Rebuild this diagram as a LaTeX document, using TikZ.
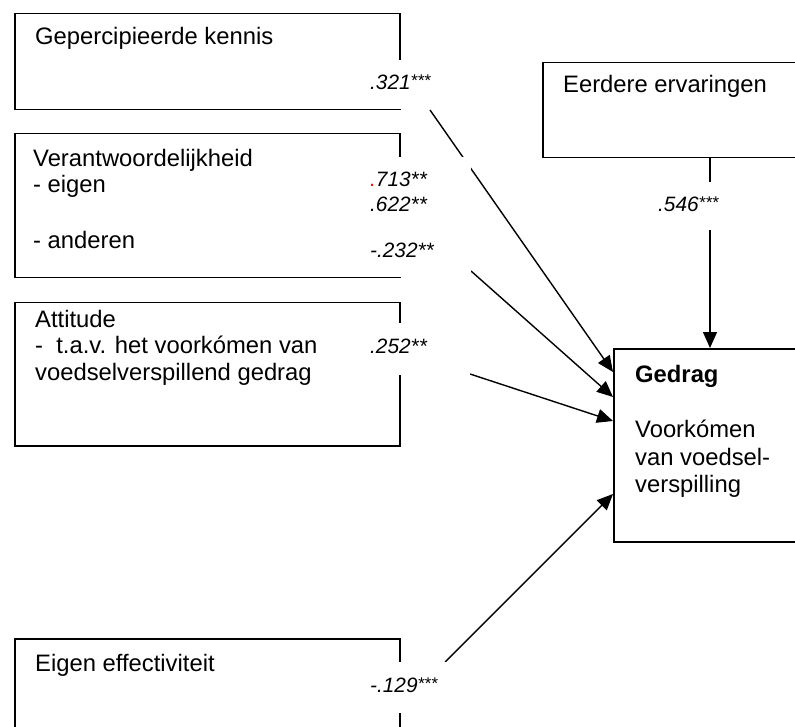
\documentclass[tikz,border=0pt]{standalone}
\usepackage{fontspec}
\setmainfont{Liberation Sans}
\usetikzlibrary{arrows.meta}

\tikzset{
  factorbox/.style={draw=black, line width=1.5pt, rectangle, anchor=north west, inner sep=0pt},
  txt/.style={anchor=base west, inner sep=0pt, font=\fontsize{23.8}{27}\selectfont},
  coef/.style={anchor=base west, inner sep=0pt, font=\fontsize{20.8}{24}\selectfont\itshape},
  linkarrow/.style={draw=black, line width=1.4pt, -{Triangle[length=16pt,width=14pt]}},
  gapmask/.style={fill=white, draw=none},
}
\newcommand{\sigstars}[1]{\raisebox{3pt}{\fontsize{17}{17}\selectfont #1}}

\begin{document}
\begin{tikzpicture}[x=1pt,y=-1pt]
\clip (0,0) rectangle (795,727);
\fill[white] (0,0) rectangle (795,727);

% factor boxes
\node[factorbox, minimum width=385pt, minimum height=96pt]  (kennis) at (14,13)  {};
\node[factorbox, minimum width=385pt, minimum height=144pt] (verant) at (14,133) {};
\node[factorbox, minimum width=385pt, minimum height=143pt] (attit)  at (14,302) {};
\node[factorbox, minimum width=385pt, minimum height=150pt] (effect) at (14,638) {};
\node[factorbox, minimum width=300pt, minimum height=95pt]  (eerder) at (542,62) {};
\node[factorbox, minimum width=250pt, minimum height=193pt] (gedrag) at (613,348) {};

% box texts
\node[txt] (tk)  at (35,45)  {Gepercipieerde kennis};
\node[txt] (tv1) at (33,167) {Verantwoordelijkheid};
\node[txt] (tv2) at (33,193) {- eigen};
\node[txt] (tv3) at (33,249) {- anderen};
\node[txt] (ta1) at (35,327) {Attitude};
\node[txt] (ta2) at (35,353) {-\ \ t.a.v. het voorkómen van};
\node[txt] (ta3) at (35,380) {voedselverspillend gedrag};
\node[txt] (te)  at (35,671) {Eigen effectiviteit};
\node[txt] (tr)  at (563,93) {Eerdere ervaringen};
\node[txt, font=\fontsize{23.8}{27}\selectfont\bfseries] (tg1) at (635,382) {Gedrag};
\node[txt] (tg2) at (635,437) {Voorkómen};
\node[txt] (tg3) at (635,465) {van voedsel-};
\node[txt] (tg4) at (635,492) {verspilling};

% connector ends
\coordinate (s1) at (430,110);
\coordinate (s2) at (471,271);
\coordinate (s3) at (470,374);
\coordinate (s4) at (445,662);
\coordinate (t0) at (710,348);
\coordinate (t1) at (613,372);
\coordinate (t2) at (613,397);
\coordinate (t3) at (613,421);
\coordinate (t4) at (613,494);

% paths to behaviour
\draw[linkarrow] (eerder.south -| t0) -- (t0);
\draw[linkarrow] (s1) -- (t1);
\draw[linkarrow] (s2) -- (t2);
\draw[linkarrow] (s3) -- (t3);
\draw[linkarrow] (s4) -- (t4);

% white grounds behind the coefficients
\fill[gapmask] (325,60)  rectangle (472,109);
\fill[gapmask] (350,157) rectangle (471,277);
\fill[gapmask] (360,323) rectangle (470,375);
\fill[gapmask] (360,662) rectangle (446,713);
\fill[gapmask] (650,182) rectangle (740,230);

% path coefficients
\node[coef] (c1)  at (370,90)  {.321\sigstars{***}};
\node[coef] (c2a) at (370,187) {{\color{red}.}713**};
\node[coef] (c2b) at (370,212) {.622**};
\node[coef] (c2c) at (370,258) {-.232**};
\node[coef] (c3)  at (370,353) {.252**};
\node[coef] (c4)  at (370,692) {-.129\sigstars{***}};
\node[coef] (c0)  at (658,212) {.546\sigstars{***}};
\end{tikzpicture}
\end{document}
